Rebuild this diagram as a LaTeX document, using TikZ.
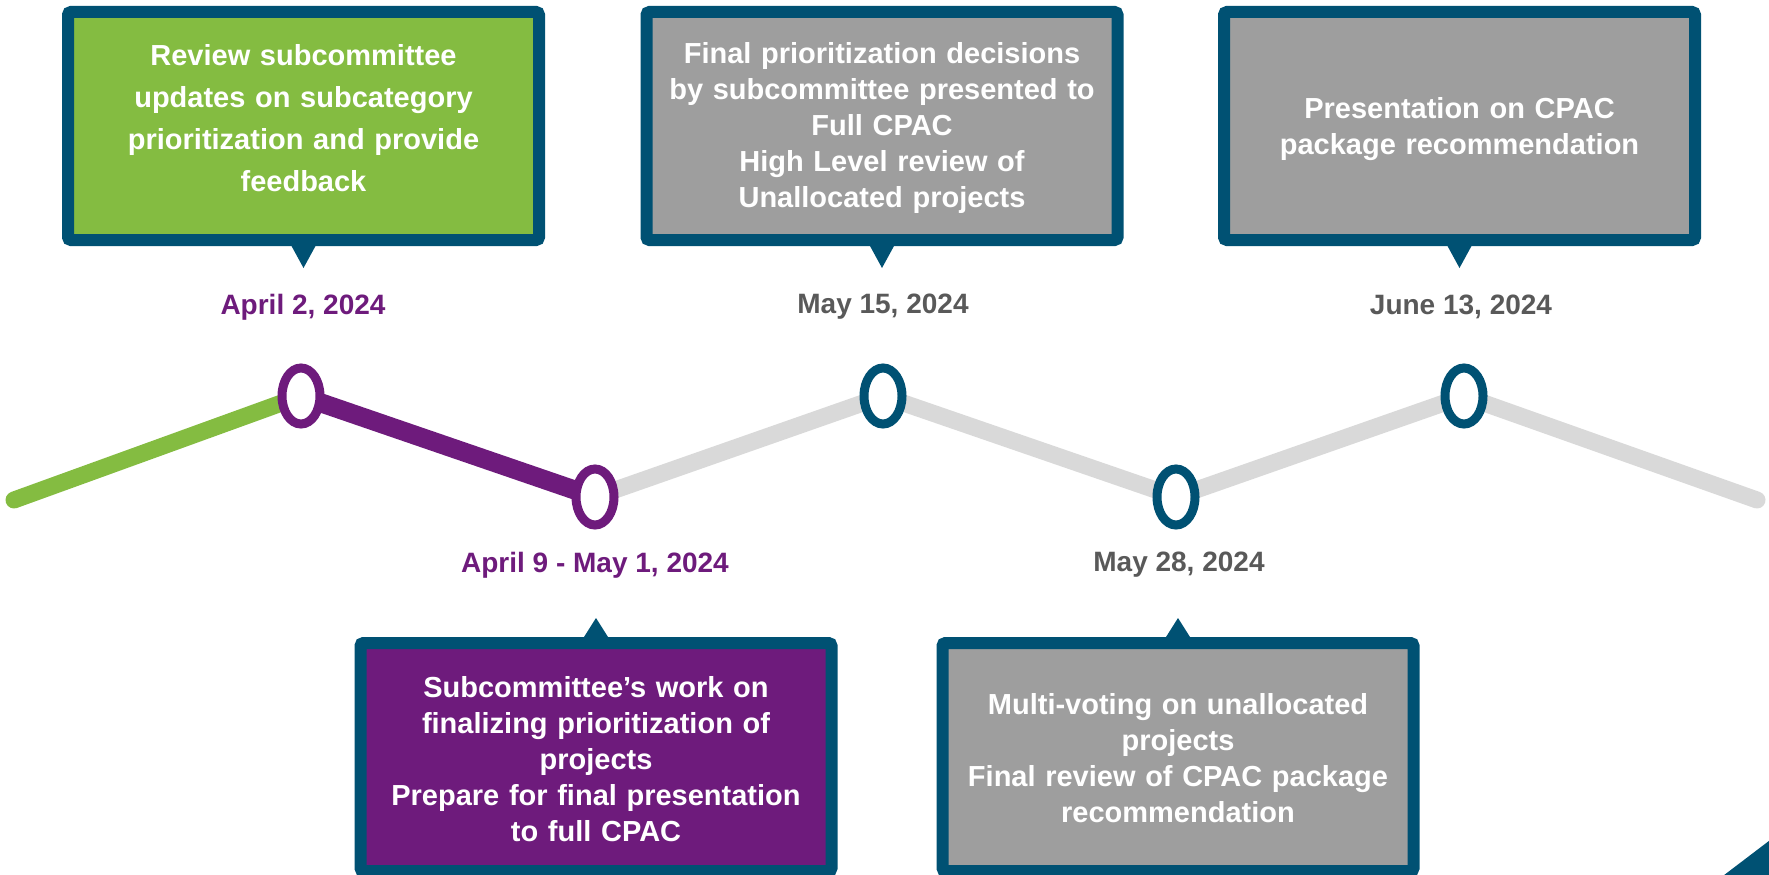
\documentclass[tikz,border=0pt]{standalone}
\usepackage{fontspec}
\setmainfont{Liberation Sans}
\usetikzlibrary{shapes.geometric,backgrounds}
\definecolor{navy}{HTML}{005173}
\definecolor{leaf}{HTML}{84BC41}
\definecolor{plum}{HTML}{6E1B7C}
\definecolor{stone}{HTML}{9E9E9E}
\definecolor{ash}{HTML}{595959}
\definecolor{mist}{HTML}{D9D9D9}
\begin{document}
\begin{tikzpicture}[x=1pt,y=-1pt,
  box/.style={draw=navy, line width=12pt, rounded corners=3pt, minimum width=471pt, minimum height=228pt, inner sep=0pt},
  boxtext/.style={text=white, align=center, text width=450pt, inner sep=0pt, font=\bfseries\fontsize{29}{#1}\selectfont},
  datetext/.style={inner sep=0pt, font=\bfseries\fontsize{28}{34}\selectfont},
  dot/.style={ellipse, line width=9pt, fill=white, minimum width=38pt, minimum height=56pt, inner sep=0pt},
  tip/.style={fill=navy}
]
\clip (0,0) rectangle (1769,875);
\useasboundingbox (0,0) rectangle (1769,875);

% boxes
\node[box, fill=leaf]  (b1) at (303.5,126) {};
\node[box, fill=stone] (b2) at (882,126) {};
\node[box, fill=stone] (b3) at (1459.5,126) {};
\node[box, fill=plum]  (b4) at (596,757) {};
\node[box, fill=stone] (b5) at (1178,757) {};

% tips
\fill[tip] ([xshift=-12pt]b1.south) -- ([xshift=12pt]b1.south) -- ([yshift=-22pt]b1.south) -- cycle;
\fill[tip] ([xshift=-12pt]b2.south) -- ([xshift=12pt]b2.south) -- ([yshift=-22pt]b2.south) -- cycle;
\fill[tip] ([xshift=-12pt]b3.south) -- ([xshift=12pt]b3.south) -- ([yshift=-22pt]b3.south) -- cycle;
\fill[tip] ([xshift=-12pt]b4.north) -- ([xshift=12pt]b4.north) -- ([yshift=19pt]b4.north) -- cycle;
\fill[tip] ([xshift=-12pt]b5.north) -- ([xshift=12pt]b5.north) -- ([yshift=19pt]b5.north) -- cycle;

% box texts
\node[boxtext=42] (t1) at (303.5,118) {Review subcommittee\\updates on subcategory\\prioritization and provide\\feedback};
\node[boxtext=36] (t2) at (882,128) {Final prioritization decisions\\by subcommittee presented to\\Full CPAC\\High Level review of\\Unallocated projects};
\node[boxtext=36] (t3) at (1459.5,129) {Presentation on CPAC\\package recommendation};
\node[boxtext=36] (t4) at (596,759) {Subcommittee’s work on\\finalizing prioritization of\\projects\\Prepare for final presentation\\to full CPAC};
\node[boxtext=36] (t5) at (1178,758) {Multi-voting on unallocated\\projects\\Final review of CPAC package\\recommendation};

% dates
\node[datetext, text=plum] (d1) at (303,307) {April 2, 2024};
\node[datetext, text=ash]  (d3) at (883,307) {May 15, 2024};
\node[datetext, text=ash]  (d5) at (1461,307) {June 13, 2024};
\node[datetext, text=plum] (d2) at (595,565) {April 9 - May 1, 2024};
\node[datetext, text=ash]  (d4) at (1179,565) {May 28, 2024};

% timeline markers
\coordinate (L) at (14,500);
\coordinate (R) at (1757,500);
\node[dot, draw=plum] (c1) at (301,396) {};
\node[dot, draw=plum] (c2) at (595,497) {};
\node[dot, draw=navy] (c3) at (883,396) {};
\node[dot, draw=navy] (c4) at (1176,497) {};
\node[dot, draw=navy] (c5) at (1464,396) {};

\begin{scope}[on background layer]
\draw[mist, line width=17pt, line cap=round, line join=round] (c2.center) -- (c3.center) -- (c4.center) -- (c5.center) -- (R);
\draw[leaf, line width=17pt, line cap=round] (L) -- (c1.center);
\draw[plum, line width=19pt] (c1.center) -- (c2.center);
\end{scope}

% corner decoration
\fill[navy] (1711,885) -- (1782,831) -- (1782,885) -- cycle;
\end{tikzpicture}
\end{document}
